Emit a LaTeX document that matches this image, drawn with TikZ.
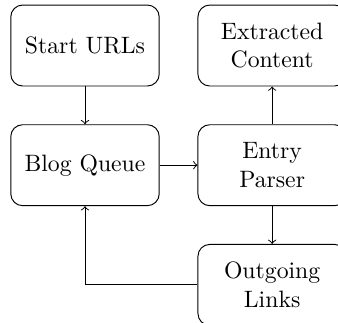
\documentclass[tikz,border=0pt]{standalone}
\usepackage{tikz}
\usetikzlibrary{positioning}

\begin{document}
\begin{tikzpicture}[
        block/.style={draw, rounded corners=5pt, minimum width=2.2cm, minimum height=1.2cm, align=center},
        node distance=0.56cm and 0.56cm
    ]
            % 1. Visible area (the right and bottom boxes run past it)
            \clip (-1.26, 0.675) rectangle (3.75, -4.10);

            % 2. Left column
            \node[block] (start) at (0,0) {Start URLs};
            \node[block, below=of start] (queue) {Blog Queue};

            % 3. Right column
            \node[block, right=of queue] (parser) {Entry\\Parser};
            \node[block, above=of parser] (content) {Extracted\\Content};
            \node[block, below=of parser] (links) {Outgoing\\Links};

            % 4. Connectors
            \draw[->] (start) -- (queue);
            \draw[->] (queue) -- (parser);
            \draw[->] (parser) -- (content);
            \draw[->] (parser) -- (links);
            \draw[->] (links.west) -| (queue.south);
        \end{tikzpicture}
\end{document}
